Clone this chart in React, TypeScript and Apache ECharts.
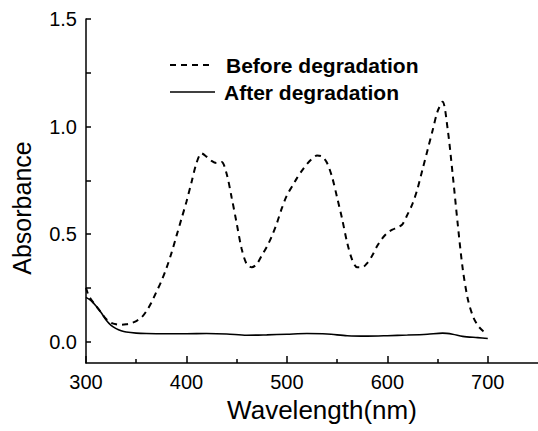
import React, { useEffect, useRef } from "react";
import * as echarts from "echarts";

const wavelengthBefore = [300, 303, 310, 315, 320, 325, 330, 335, 340, 345, 350, 355, 360, 365, 370, 375, 380, 385, 390, 395, 400, 405, 410, 415, 420, 425, 430, 435, 440, 445, 450, 455, 460, 465, 470, 475, 480, 485, 490, 495, 500, 505, 510, 515, 520, 525, 530, 535, 540, 545, 550, 555, 560, 565, 570, 575, 580, 585, 590, 595, 600, 605, 610, 615, 620, 625, 630, 635, 640, 645, 650, 655, 660, 665, 670, 675, 680, 685, 690, 695, 700];
const absorbanceBefore = [0.25, 0.21, 0.165, 0.135, 0.105, 0.087, 0.08, 0.078, 0.08, 0.085, 0.095, 0.11, 0.14, 0.18, 0.23, 0.28, 0.34, 0.41, 0.49, 0.57, 0.65, 0.74, 0.83, 0.875, 0.86, 0.84, 0.83, 0.835, 0.78, 0.67, 0.55, 0.43, 0.36, 0.345, 0.36, 0.4, 0.44, 0.49, 0.55, 0.62, 0.68, 0.72, 0.76, 0.795, 0.825, 0.85, 0.865, 0.86, 0.83, 0.765, 0.67, 0.57, 0.46, 0.38, 0.345, 0.345, 0.365, 0.4, 0.445, 0.48, 0.505, 0.52, 0.53, 0.545, 0.59, 0.64, 0.71, 0.8, 0.89, 0.98, 1.07, 1.115, 0.99, 0.78, 0.55, 0.34, 0.2, 0.12, 0.075, 0.05, 0.035];

const wavelengthAfter = [300, 305, 310, 315, 320, 325, 330, 335, 340, 350, 360, 380, 400, 420, 440, 460, 480, 500, 520, 540, 560, 580, 600, 620, 640, 655, 665, 675, 690, 700];
const absorbanceAfter = [0.205, 0.19, 0.165, 0.135, 0.1, 0.075, 0.06, 0.05, 0.044, 0.039, 0.037, 0.036, 0.036, 0.037, 0.035, 0.029, 0.031, 0.034, 0.037, 0.035, 0.027, 0.025, 0.027, 0.03, 0.034, 0.039, 0.034, 0.024, 0.018, 0.014];

const xMajorTicks = [300, 400, 500, 600, 700];
const xMinorTicks = [350, 450, 550, 650];
const yTicks = [0, 0.25, 0.5, 0.75, 1.0, 1.25, 1.5];
const yLabels = [0, 0.5, 1.0, 1.5];

const seriesNames = ["Before degradation", "After degradation"];

const FONT = "Liberation Sans, Arial, Helvetica, sans-serif";

export default function App() {
  const ref = useRef<HTMLDivElement>(null);
  useEffect(() => {
    document.body.style.margin = "0";
    const chart = echarts.init(ref.current!, null, { renderer: "svg" });
    const pairs = (xs: number[], ys: number[]) => xs.map((x, i) => [x, ys[i]]);
    const legendText = (text: string, x: number, y: number) => ({
      type: "text",
      x,
      y,
      style: {
        text,
        fontFamily: FONT,
        fontSize: 21,
        fontWeight: "bold",
        fill: "#000",
        align: "left",
        verticalAlign: "middle",
      },
    });
    chart.setOption({
      animation: false,
      backgroundColor: "#ffffff",
      grid: { left: 86, right: -2, top: 19, bottom: 68, containLabel: false },
      xAxis: [
        {
          type: "value",
          min: 300,
          max: 750,
          axisLine: { show: true, onZero: false, lineStyle: { color: "#000", width: 1.5 } },
          axisTick: { show: true, inside: true, length: 7, customValues: xMajorTicks, lineStyle: { color: "#000", width: 1.5 } },
          axisLabel: { customValues: xMajorTicks, fontFamily: FONT, fontSize: 20, color: "#000", margin: 9 },
          splitLine: { show: false },
        },
        {
          type: "value",
          min: 300,
          max: 750,
          position: "bottom",
          axisLine: { show: false, onZero: false },
          axisTick: { show: true, inside: true, length: 4, customValues: xMinorTicks, lineStyle: { color: "#000", width: 1.5 } },
          axisLabel: { show: false },
          splitLine: { show: false },
        },
      ],
      yAxis: {
        type: "value",
        min: -0.1,
        max: 1.5,
        axisLine: { show: true, onZero: false, lineStyle: { color: "#000", width: 1.5 } },
        axisTick: { show: true, inside: true, length: 5, customValues: yTicks, lineStyle: { color: "#000", width: 1.5 } },
        axisLabel: {
          customValues: yLabels,
          formatter: (v: number) => v.toFixed(1),
          fontFamily: FONT,
          fontSize: 20,
          color: "#000",
          margin: 9,
        },
        splitLine: { show: false },
      },
      graphic: [
        {
          type: "line",
          shape: { x1: 170, y1: 65, x2: 213, y2: 65 },
          style: { stroke: "#000", lineWidth: 2, lineDash: [6, 5] },
        },
        legendText(seriesNames[0], 226, 65),
        {
          type: "line",
          shape: { x1: 170, y1: 92, x2: 215, y2: 92 },
          style: { stroke: "#000", lineWidth: 1.6 },
        },
        legendText(seriesNames[1], 224, 92),
        {
          type: "text",
          x: 322,
          y: 410,
          style: {
            text: "Wavelength(nm)",
            fontFamily: FONT,
            fontSize: 26,
            fill: "#000",
            align: "center",
            verticalAlign: "middle",
          },
        },
        {
          type: "text",
          x: 22,
          y: 208,
          rotation: Math.PI / 2,
          style: {
            text: "Absorbance",
            fontFamily: FONT,
            fontSize: 25,
            fill: "#000",
            align: "center",
            verticalAlign: "middle",
          },
        },
      ],
      series: [
        {
          name: seriesNames[0],
          type: "line",
          xAxisIndex: 0,
          data: pairs(wavelengthBefore, absorbanceBefore),
          smooth: 0.3,
          symbol: "none",
          lineStyle: { color: "#000", width: 2, type: [6, 5] },
          itemStyle: { color: "#000" },
        },
        {
          name: seriesNames[1],
          type: "line",
          xAxisIndex: 0,
          data: pairs(wavelengthAfter, absorbanceAfter),
          smooth: 0.3,
          symbol: "none",
          lineStyle: { color: "#000", width: 1.6, type: "solid" },
          itemStyle: { color: "#000" },
        },
      ],
    });
    return () => chart.dispose();
  }, []);
  return <div ref={ref} style={{ width: 538, height: 431 }} />;
}
